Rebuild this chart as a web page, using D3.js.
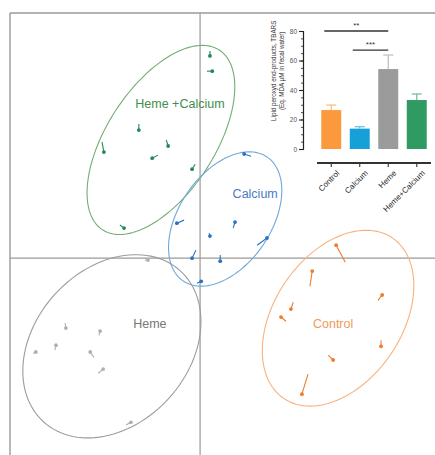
<!DOCTYPE html>
<html>
<head>
<meta charset="utf-8">
<script src="https://cdn.jsdelivr.net/npm/d3@7"></script>
<style>
  body { margin: 0; background: #fff; }
  text { font-family: "Liberation Sans", Arial, sans-serif; }
</style>
</head>
<body>
<svg id="chart" width="435" height="455"></svg>
<script>
// Score plot groups
var groups = ["Heme +Calcium", "Calcium", "Control", "Heme"];
var pointColors = ["#23895a", "#2b73c2", "#ef7b30", "#b0b0b0"];
var ellipseColors = ["#74ad74", "#6fa9d8", "#f8b27e", "#9c9c9c"];
var labelColors = ["#3e8e4e", "#4a79c3", "#f29a5c", "#777"];

// each point: [x, y, tailX, tailY]
var hemeCalciumPts = [
  [0.26, 5.32, 0.26, 5.45], [0.32, 4.92, 0.18, 4.92], [-1.61, 3.37, -1.61, 3.53],
  [-2.53, 2.79, -2.58, 3.05], [-0.84, 2.95, -0.89, 3.11], [-1.26, 2.63, -1.11, 2.71],
  [-0.21, 2.34, -0.13, 2.47], [-2.0, 0.79, -2.11, 0.87]
];
var calciumPts = [
  [1.16, 2.74, 1.34, 2.68], [-0.61, 0.92, -0.42, 1.0], [0.92, 0.95, 0.87, 0.79],
  [0.26, 0.58, 0.24, 0.66], [1.76, 0.53, 1.5, 0.34], [-0.21, 0.0, -0.11, 0.21],
  [0.53, -0.08, 0.53, 0.08], [0.03, -0.61, -0.08, -0.66]
];
var controlPts = [
  [3.58, 0.34, 3.82, -0.11], [2.95, -0.34, 2.89, -0.74], [4.79, -0.97, 4.68, -1.11],
  [2.39, -1.34, 2.45, -1.16], [2.13, -1.55, 2.26, -1.66], [4.76, -2.32, 4.76, -2.16],
  [3.5, -2.68, 3.37, -2.55], [2.68, -3.58, 2.84, -3.05]
];
var hemePts = [
  [-1.37, -0.05, -1.45, -0.05], [-3.53, -1.84, -3.55, -1.71], [-2.63, -1.92, -2.66, -2.03],
  [-3.79, -2.29, -3.82, -2.42], [-4.32, -2.47, -4.39, -2.5], [-2.89, -2.47, -2.79, -2.61],
  [-2.55, -2.92, -2.68, -3.03], [-1.82, -4.32, -1.95, -4.39]
];
var groupPts = [hemeCalciumPts, calciumPts, controlPts, hemePts];

// confidence ellipses: [cx, cy, semi-major, semi-minor, angle deg]
var ellipses = [
  [-1.03, 3.11, 2.82, 1.42, 57],
  [0.66, 1.03, 1.97, 1.21, 56],
  [3.63, -1.58, 2.55, 1.68, 56],
  [-2.32, -2.32, 2.68, 2.03, 48]
];
var labelPos = [[-0.53, 4.05], [1.45, 1.68], [3.5, -1.74], [-1.32, -1.76]];

// Inset bar chart
var barCats = ["Control", "Calcium", "Heme", "Heme+Calcium"];
var barValues = [26.4, 13.8, 54.2, 33.2];
var barErrors = [3.4, 1.3, 9.5, 4.1];
var barColors = ["#fa9a3c", "#16a0d8", "#9b9b9b", "#2f9a62"];
var errColors = ["#f9b878", "#62bde4", "#bdbdbd", "#6fba8e"];
var yTicks = [0, 20, 40, 60, 80];
var sigFrom = ["Control", "Calcium"];
var sigTo = ["Heme", "Heme"];
var sigLevel = [80, 67];
var sigLabel = ["**", "***"];

var svg = d3.select("#chart");

var x = d3.scaleLinear().domain([-5, 6.18]).range([10, 435]);
var y = d3.scaleLinear().domain([-5.18, 6.45]).range([455, 13]);

// Frame and zero axes
var frameColor = "#9a9a9a";
svg.append("line").attr("x1", x(-5)).attr("x2", x(6.18)).attr("y1", y(6.45)).attr("y2", y(6.45))
  .attr("stroke", frameColor).attr("stroke-width", 1.4);
svg.append("line").attr("x1", x(-5)).attr("x2", x(-5)).attr("y1", y(6.45)).attr("y2", y(-5.18))
  .attr("stroke", frameColor).attr("stroke-width", 1.4);
svg.append("line").attr("x1", x(0)).attr("x2", x(0)).attr("y1", y(6.45)).attr("y2", y(-5.18))
  .attr("stroke", frameColor).attr("stroke-width", 1.2);
svg.append("line").attr("x1", x(-5)).attr("x2", x(6.18)).attr("y1", y(0)).attr("y2", y(0))
  .attr("stroke", frameColor).attr("stroke-width", 1.4);

// Ellipses
var line = d3.line().curve(d3.curveLinearClosed);
ellipses.forEach(function (e, i) {
  var rad = e[4] * Math.PI / 180;
  var pts = d3.range(0, 360, 3).map(function (t) {
    var a = t * Math.PI / 180;
    var ex = e[2] * Math.cos(a), ey = e[3] * Math.sin(a);
    return [x(e[0] + ex * Math.cos(rad) - ey * Math.sin(rad)),
            y(e[1] + ex * Math.sin(rad) + ey * Math.cos(rad))];
  });
  svg.append("path").attr("d", line(pts)).attr("fill", "none")
    .attr("stroke", ellipseColors[i]).attr("stroke-width", 1.1);
});

// Points with tails
groupPts.forEach(function (pts, i) {
  var g = svg.append("g");
  g.selectAll("line").data(pts).enter().append("line")
    .attr("x1", function (d) { return x(d[0]); })
    .attr("y1", function (d) { return y(d[1]); })
    .attr("x2", function (d) { return x(d[2]); })
    .attr("y2", function (d) { return y(d[3]); })
    .attr("stroke", pointColors[i]).attr("stroke-width", 1.1);
  g.selectAll("circle").data(pts).enter().append("circle")
    .attr("cx", function (d) { return x(d[0]); })
    .attr("cy", function (d) { return y(d[1]); })
    .attr("r", 1.9)
    .attr("fill", pointColors[i]);
});

// Group labels
groups.forEach(function (name, i) {
  svg.append("text").attr("x", x(labelPos[i][0])).attr("y", y(labelPos[i][1]))
    .attr("text-anchor", "middle").attr("dominant-baseline", "middle")
    .attr("font-size", 12.5).attr("fill", labelColors[i]).text(name);
});

// Inset
var bx = d3.scaleBand().domain(barCats).range([317, 431]).paddingInner(0.3).paddingOuter(0.15);
var by = d3.scaleLinear().domain([0, 80]).range([149, 31]);
var inset = svg.append("g");

inset.selectAll("rect.bar").data(barValues).enter().append("rect")
  .attr("class", "bar")
  .attr("x", function (d, i) { return bx(barCats[i]); })
  .attr("y", function (d) { return by(d); })
  .attr("width", bx.bandwidth())
  .attr("height", function (d) { return by(0) - by(d); })
  .attr("fill", function (d, i) { return barColors[i]; });

// error bars
barValues.forEach(function (v, i) {
  var cx = bx(barCats[i]) + bx.bandwidth() / 2;
  inset.append("line").attr("x1", cx).attr("x2", cx)
    .attr("y1", by(v)).attr("y2", by(v + barErrors[i]))
    .attr("stroke", errColors[i]).attr("stroke-width", 1.2);
  inset.append("line").attr("x1", cx - 5).attr("x2", cx + 5)
    .attr("y1", by(v + barErrors[i])).attr("y2", by(v + barErrors[i]))
    .attr("stroke", errColors[i]).attr("stroke-width", 1.2);
});

// y axis
var yAxis = d3.axisLeft(by).tickValues(yTicks).tickSize(4).tickPadding(2);
var yg = inset.append("g").attr("transform", "translate(303,0)").call(yAxis);
yg.select(".domain").attr("stroke", "#222").attr("stroke-width", 1.2);
yg.selectAll(".tick line").attr("stroke", "#222").attr("stroke-width", 1.1);
yg.selectAll(".tick text").attr("font-size", 6.5).attr("fill", "#555")
  .style("font-family", "Liberation Sans, Arial, sans-serif");
var yMinor = d3.axisLeft(by).tickValues(d3.range(0, 81, 5)).tickSize(2).tickFormat("");
var ym = inset.append("g").attr("transform", "translate(303,0)").call(yMinor);
ym.select(".domain").remove();
ym.selectAll(".tick line").attr("stroke", "#222").attr("stroke-width", 0.8);

// y title
inset.append("text").attr("transform", "translate(276," + by(53) + ") rotate(-90)")
  .attr("text-anchor", "middle").attr("font-size", 6.3).attr("fill", "#333")
  .text("Lipid peroxyd end-products, TBARS");
inset.append("text").attr("transform", "translate(283.5," + by(53) + ") rotate(-90)")
  .attr("text-anchor", "middle").attr("font-size", 6.3).attr("fill", "#333")
  .text("(Eq. MDA µM in fecal water)");

// x axis
var xAxis = d3.axisBottom(bx).tickSize(4).tickPadding(3);
var xg = inset.append("g").attr("transform", "translate(0,163)").call(xAxis);
xg.select(".domain").attr("stroke", "#333").attr("stroke-width", 1.8).attr("d", "M317,0H431");
xg.selectAll(".tick line").attr("stroke", "#333").attr("stroke-width", 1.1);
xg.selectAll(".tick text").attr("font-size", 8).attr("fill", "#222")
  .style("font-family", "Liberation Sans, Arial, sans-serif")
  .attr("text-anchor", "end").attr("dy", "0.3em")
  .attr("transform", "translate(2,4) rotate(-45)");

// significance bars
sigLabel.forEach(function (s, i) {
  var x1 = bx(sigFrom[i]) + bx.bandwidth() * 0.15;
  var x2 = bx(sigTo[i]) + bx.bandwidth() / 2;
  inset.append("line").attr("x1", x1).attr("x2", x2)
    .attr("y1", by(sigLevel[i])).attr("y2", by(sigLevel[i]))
    .attr("stroke", "#333").attr("stroke-width", 1.3);
  inset.append("text").attr("x", (x1 + x2) / 2).attr("y", by(sigLevel[i]) - 3)
    .attr("text-anchor", "middle").attr("font-size", 8).attr("fill", "#333").text(s);
});
</script>
</body>
</html>
